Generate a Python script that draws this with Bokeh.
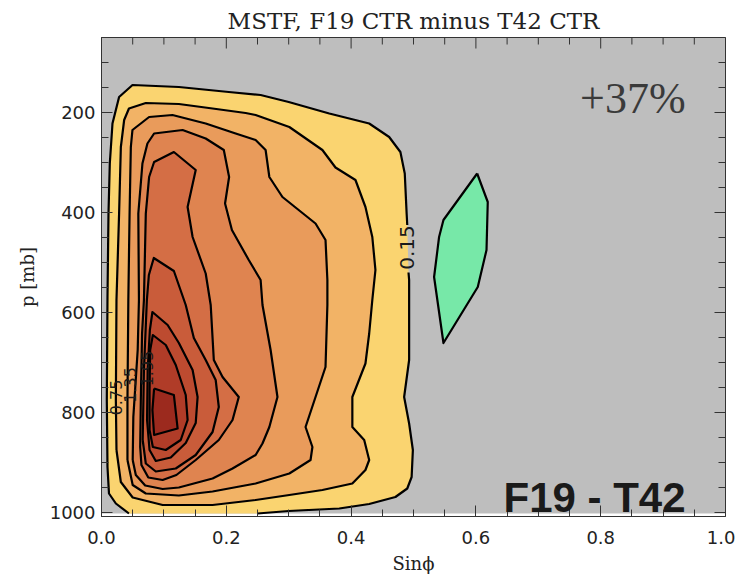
from bokeh.plotting import figure
from bokeh.models import (Range1d, FixedTicker, BoxAnnotation, Label,
                          ColumnDataSource, PrintfTickFormatter)
from bokeh.embed import file_html
from bokeh.resources import INLINE
from bokeh.core.properties import value
import math

# ---------------- data ----------------
x_major_ticks = [0.0, 0.2, 0.4, 0.6, 0.8, 1.0]
x_minor_ticks = [0.05, 0.1, 0.15, 0.25, 0.3, 0.35, 0.45, 0.5, 0.55, 0.65, 0.7, 0.75, 0.85, 0.9, 0.95]
p_major_ticks = [200, 400, 600, 800, 1000]
p_minor_ticks = [50, 100, 150, 250, 300, 350, 450, 500, 550, 650, 700, 750, 850, 900, 950]

x_min, x_max = 0.0, 1.0
p_top, p_axis_bottom = 50, 1008
p_data_bottom = 1002  # lowest pressure level of the field

levels = [0.15, 0.45, 0.75, 1.05, 1.35, 1.65, 1.95, 2.25, 2.55]
level_colors = ["#fad470", "#f2b366", "#e99b5b", "#df8450", "#d46e45",
                "#c95c3a", "#bd4b30", "#b03c28", "#9c2a1e"]
negative_level = -0.15
negative_color = "#77e8a8"

# 0.15 contour (open, ends on the bottom boundary; gap where it is labelled)
c015_upper_x = [0.044, 0.023, 0.012, 0.0096, 0.0085, 0.0096, 0.0112, 0.0133, 0.0176, 0.0282, 0.0497,
                0.124, 0.204, 0.255, 0.300, 0.365, 0.429, 0.461, 0.479, 0.486, 0.489, 0.490]
c015_upper_p = [1002, 982, 962, 909, 775, 569, 402, 302, 222, 169, 145,
                149, 159, 165, 179, 202, 222, 249, 279, 322, 402, 425]
c015_lower_x = [0.492, 0.493, 0.493, 0.485, 0.493, 0.499, 0.497, 0.490, 0.471, 0.429, 0.381, 0.300, 0.250]
c015_lower_p = [520, 535, 695, 769, 822, 875, 929, 952, 969, 983, 992, 997, 1002]

c045_x = [0.024, 0.023, 0.024, 0.0282, 0.031, 0.0363, 0.044, 0.071, 0.124, 0.178, 0.231, 0.247, 0.301,
          0.354, 0.375, 0.407, 0.423, 0.434, 0.439, 0.434, 0.429, 0.423, 0.402, 0.402, 0.421, 0.429,
          0.423, 0.402, 0.354, 0.301, 0.247, 0.178, 0.098, 0.050, 0.031]
c045_p = [875, 775, 575, 402, 269, 215, 192, 181, 183, 192, 201, 205, 229,
          275, 310, 335, 389, 449, 515, 575, 642, 702, 769, 829, 855, 895,
          915, 942, 955, 965, 975, 985, 985, 970, 939]

c075_x = [0.0416, 0.0416, 0.043, 0.045, 0.047, 0.0496, 0.0763, 0.1137, 0.167, 0.215, 0.247, 0.263,
          0.269, 0.290, 0.343, 0.359, 0.362, 0.362, 0.359, 0.327, 0.338, 0.335, 0.301, 0.247, 0.178,
          0.124, 0.071, 0.050]
c075_p = [895, 775, 575, 402, 269, 235, 209, 205, 222, 242, 255, 275,
          329, 369, 422, 455, 535, 585, 709, 829, 869, 895, 922, 942, 958,
          966, 962, 945]

c105_x = [0.050, 0.051, 0.058, 0.060, 0.059, 0.0656, 0.0736, 0.0843, 0.130, 0.167, 0.196, 0.2045,
          0.198, 0.209, 0.236, 0.255, 0.258, 0.271, 0.282, 0.269, 0.258, 0.247, 0.210, 0.178, 0.124,
          0.098, 0.070, 0.055]
c105_p = [895, 809, 675, 575, 402, 302, 262, 242, 235, 252, 275, 329,
          382, 435, 495, 535, 585, 675, 769, 829, 862, 885, 912, 932, 950,
          953, 946, 925]

c135_x = [0.062, 0.063, 0.065, 0.068, 0.071, 0.0763, 0.0843, 0.116, 0.151, 0.138, 0.146, 0.167,
          0.175, 0.180, 0.194, 0.220, 0.210, 0.188, 0.151, 0.120, 0.098, 0.075, 0.064]
c135_p = [869, 775, 642, 575, 402, 329, 299, 279, 315, 389, 449, 522,
          585, 695, 729, 769, 815, 855, 895, 925, 935, 930, 905]

c165_x = [0.066, 0.068, 0.0727, 0.0759, 0.0838, 0.116, 0.135, 0.148, 0.167, 0.183, 0.188, 0.178,
          0.151, 0.119, 0.087, 0.071]
c165_p = [855, 715, 575, 525, 491, 517, 585, 651, 695, 735, 789, 839,
          885, 912, 918, 902]

c195_x = [0.073, 0.074, 0.0775, 0.0816, 0.106, 0.124, 0.146, 0.154, 0.151, 0.135, 0.111, 0.087, 0.077]
c195_p = [815, 715, 635, 599, 625, 661, 715, 769, 821, 861, 890, 897, 875]

c225_x = [0.077, 0.078, 0.0823, 0.103, 0.119, 0.135, 0.138, 0.127, 0.103, 0.0823, 0.077]
c225_p = [755, 675, 645, 665, 705, 765, 815, 855, 875, 869, 835]

c255_x = [0.0843, 0.116, 0.122, 0.0843, 0.0816]
c255_p = [752, 765, 832, 845, 795]

neg015_x = [0.602, 0.619, 0.617, 0.603, 0.548, 0.533, 0.541, 0.548]
neg015_p = [322, 379, 475, 549, 661, 529, 449, 415]

label_text = ["0.15", "1.95", "1.35", "0.75"]
label_x = [0.4895, 0.073, 0.046, 0.024]
label_p = [470, 712, 745, 770]
label_size = ["20px", "16px", "16px", "16px"]

title_text = "MSTF, F19 CTR minus T42 CTR"
change_text = "+37%"
panel_text = "F19 - T42"

# ---------------- figure ----------------
SERIF = "DejaVu Serif"
TICKFONT = "DejaVu Sans"
AXC = "#333333"

p = figure(frame_width=624, frame_height=479,
           x_range=Range1d(x_min, x_max), y_range=Range1d(p_axis_bottom, p_top),
           output_backend="svg", toolbar_location=None,
           min_border_left=101, min_border_right=10, min_border_top=37, min_border_bottom=0,
           background_fill_color="#bebebe", border_fill_color="white")
p.grid.visible = False
p.outline_line_color = AXC

p.title.text = title_text
p.title.text_font = SERIF
p.title.text_font_size = "23px"
p.title.text_font_style = "normal"
p.title.text_color = "#222222"
p.title.align = "center"
p.title.offset = 8
p.title.standoff = 7

def style_axis(ax, ticks, minor):
    ax.ticker = FixedTicker(ticks=ticks, minor_ticks=minor)
    ax.major_tick_in = 11
    ax.major_tick_out = 0
    ax.minor_tick_in = 7
    ax.minor_tick_out = 0
    ax.axis_line_color = AXC
    ax.major_tick_line_color = AXC
    ax.minor_tick_line_color = AXC
    ax.major_label_text_font = TICKFONT
    ax.major_label_text_font_size = "18px"
    ax.major_label_text_color = "#222222"
    ax.axis_label_text_font = SERIF
    ax.axis_label_text_font_style = "normal"
    ax.axis_label_text_font_size = "18px"
    ax.axis_label_text_color = "#222222"

xa = p.xaxis[0]
style_axis(xa, x_major_ticks, x_minor_ticks)
xa.formatter = PrintfTickFormatter(format="%.1f")
xa.major_label_standoff = 14
xa.axis_label = "Sin\u03d5"
xa.axis_label_standoff = 6

ya = p.yaxis[0]
style_axis(ya, p_major_ticks, p_minor_ticks)
ya.major_label_standoff = 6
ya.axis_label = "p [mb]"
ya.axis_label_standoff = 9

# mirrored tick marks on the top and right edges (half of each dash is clipped by the frame)
p.scatter(x_major_ticks, [p_top] * len(x_major_ticks), marker="dash", size=22, angle=math.pi / 2,
          line_color=AXC, line_width=1)
p.scatter(x_minor_ticks, [p_top] * len(x_minor_ticks), marker="dash", size=14, angle=math.pi / 2,
          line_color=AXC, line_width=1)
p.scatter([x_max] * len(p_major_ticks), p_major_ticks, marker="dash", size=22,
          line_color=AXC, line_width=1)
p.scatter([x_max] * len(p_minor_ticks), p_minor_ticks, marker="dash", size=14,
          line_color=AXC, line_width=1)

# strip below the lowest data level
p.add_layout(BoxAnnotation(top=p_data_bottom, bottom=p_axis_bottom + 2, fill_color="white", fill_alpha=1.0,
                           line_color=None, level="underlay"))

# filled contours
c015_x = c015_upper_x + c015_lower_x
c015_p = c015_upper_p + c015_lower_p
fill_xs = [c015_x, c045_x, c075_x, c105_x, c135_x, c165_x, c195_x, c225_x, c255_x]
fill_ps = [c015_p, c045_p, c075_p, c105_p, c135_p, c165_p, c195_p, c225_p, c255_p]
fill_src = ColumnDataSource(dict(xs=fill_xs, ys=fill_ps, color=level_colors, level=levels))
p.patches("xs", "ys", source=fill_src, fill_color="color", line_color=None)
p.patch(neg015_x, neg015_p, fill_color=negative_color, line_color=None)

# contour lines
def closed(a):
    return a + a[:1]

line_xs = [c015_upper_x, c015_lower_x] + [closed(a) for a in fill_xs[1:]] + [closed(neg015_x)]
line_ps = [c015_upper_p, c015_lower_p] + [closed(a) for a in fill_ps[1:]] + [closed(neg015_p)]
p.multi_line(line_xs, line_ps, line_color="black", line_width=2.2, line_join="round")

# contour labels
lab_src = ColumnDataSource(dict(x=label_x, y=label_p, text=label_text, size=label_size))
p.text("x", "y", text="text", source=lab_src, angle=math.pi / 2, text_align="center",
       text_baseline="middle", text_font=value(TICKFONT), text_font_size="size", text_color="#1a1a1a")

p.add_layout(Label(x=0.936, y=172, text=change_text, text_align="right", text_baseline="middle",
                   text_font="Liberation Serif", text_font_size="44px", text_color="#3a3a3a"))
p.add_layout(Label(x=0.936, y=969, text=panel_text, text_align="right", text_baseline="alphabetic",
                   text_font="Liberation Sans", text_font_style="bold", text_font_size="42px",
                   text_color="#1a1a1a"))

open("out.html", "w").write(file_html(p, INLINE))
